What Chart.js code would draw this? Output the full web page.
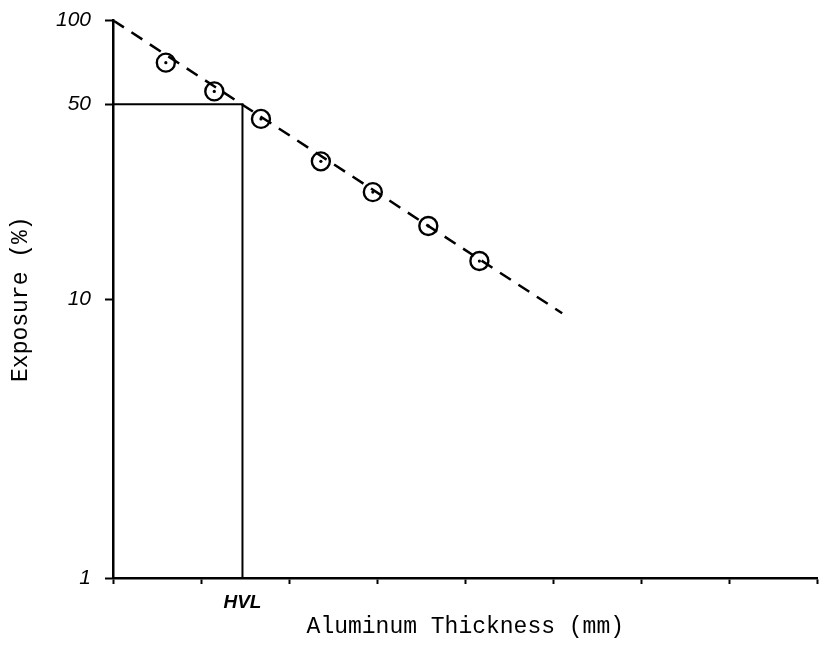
<!DOCTYPE html>
<html>
<head>
<meta charset="utf-8">
<script src="https://cdn.jsdelivr.net/npm/chart.js@4"></script>
<style>
  html, body { margin: 0; padding: 0; background: #fff; }
  #wrap { width: 829px; height: 658px; }
</style>
</head>
<body>
<div id="wrap"><canvas id="hvlChart"></canvas></div>
<script>
var thickness = [0.6, 1.15, 1.68, 2.36, 2.95, 3.58, 4.16];
var exposure = [70.5, 55.6, 44.3, 31.2, 24.2, 18.3, 13.7];
// fitted dashed line
var fitX = [0, 5.1];
var fitY = [100, 8.9];
// half value layer
var hvl = 1.47;
var hvlExposure = 50;
var yTicks = [1, 10, 50, 100];
var xTicks = [0, 1, 2, 3, 4, 5, 6, 7, 8];

function pts(xs, ys) {
  return xs.map(function(x, i) { return { x: x, y: ys[i] }; });
}

var handFont = { family: 'Liberation Sans', style: 'italic', size: 21, lineHeight: 0.6 };
var typeFont = { family: 'Liberation Mono', size: 23 };

var ctx = document.getElementById('hvlChart').getContext('2d');
var hvlChart = new Chart(ctx, {
  type: 'scatter',
  data: {
    datasets: [{
      label: 'fit',
      data: pts(fitX, fitY),
      showLine: true,
      borderColor: '#000',
      borderWidth: 2.5,
      borderDash: [13, 9],
      pointRadius: 0
    },
    {
      label: 'HVL',
      data: [{ x: 0, y: hvlExposure }, { x: hvl, y: hvlExposure }, { x: hvl, y: 1 }],
      showLine: true,
      borderColor: '#000',
      borderWidth: 2,
      pointRadius: 0
    },
    {
      label: 'Exposure',
      data: pts(thickness, exposure),
      showLine: false,
      pointRadius: 9,
      pointBorderWidth: 2.4,
      pointBorderColor: '#000',
      pointBackgroundColor: 'rgba(0,0,0,0)'
    },
    {
      label: 'centres',
      data: pts(thickness, exposure),
      showLine: false,
      pointRadius: 1.6,
      pointBorderWidth: 0,
      pointBackgroundColor: '#000'
    }]
  },
  options: {
    responsive: true,
    maintainAspectRatio: false,
    animation: false,
    layout: { padding: { top: 18, right: 6 } },
    scales: {
      x: {
        type: 'linear',
        min: 0,
        max: 8,
        afterBuildTicks: function(axis) {
          axis.ticks = xTicks.concat([hvl]).sort(function(a, b) { return a - b; })
            .map(function(v) { return { value: v }; });
        },
        afterFit: function(axis) {
          axis.height = 80;
          axis.paddingRight = 0;
        },
        grid: {
          drawOnChartArea: false,
          drawTicks: true,
          tickLength: 6,
          tickWidth: 2,
          tickColor: function(c) { return c.tick && c.tick.value === hvl ? 'rgba(0,0,0,0)' : '#000'; }
        },
        border: { display: true, color: '#000', width: 2.5 },
        ticks: {
          autoSkip: false,
          maxRotation: 0,
          padding: 7,
          color: '#000',
          font: { family: 'Liberation Sans', style: 'italic', weight: 'bold', size: 19 },
          callback: function(value) { return value === hvl ? 'HVL' : ''; }
        },
        title: {
          display: true,
          text: 'Aluminum Thickness (mm)',
          color: '#000',
          font: typeFont,
          padding: { top: 0, bottom: 17 }
        }
      },
      y: {
        type: 'logarithmic',
        min: 1,
        max: 100,
        afterBuildTicks: function(axis) {
          axis.ticks = yTicks.map(function(v) { return { value: v }; });
        },
        afterFit: function(axis) { axis.width = 113; },
        grid: {
          drawOnChartArea: false,
          drawTicks: true,
          tickLength: 8,
          tickWidth: 2,
          tickColor: '#000'
        },
        border: { display: true, color: '#000', width: 2.5 },
        ticks: {
          autoSkip: false,
          padding: 14,
          color: '#000',
          font: handFont,
          callback: function(value) { return String(value); }
        },
        title: {
          display: true,
          text: 'Exposure (%)',
          color: '#000',
          font: typeFont,
          padding: { top: 7, bottom: 0 }
        }
      }
    },
    plugins: {
      legend: { display: false },
      tooltip: { enabled: false }
    }
  }
});
</script>
</body>
</html>
